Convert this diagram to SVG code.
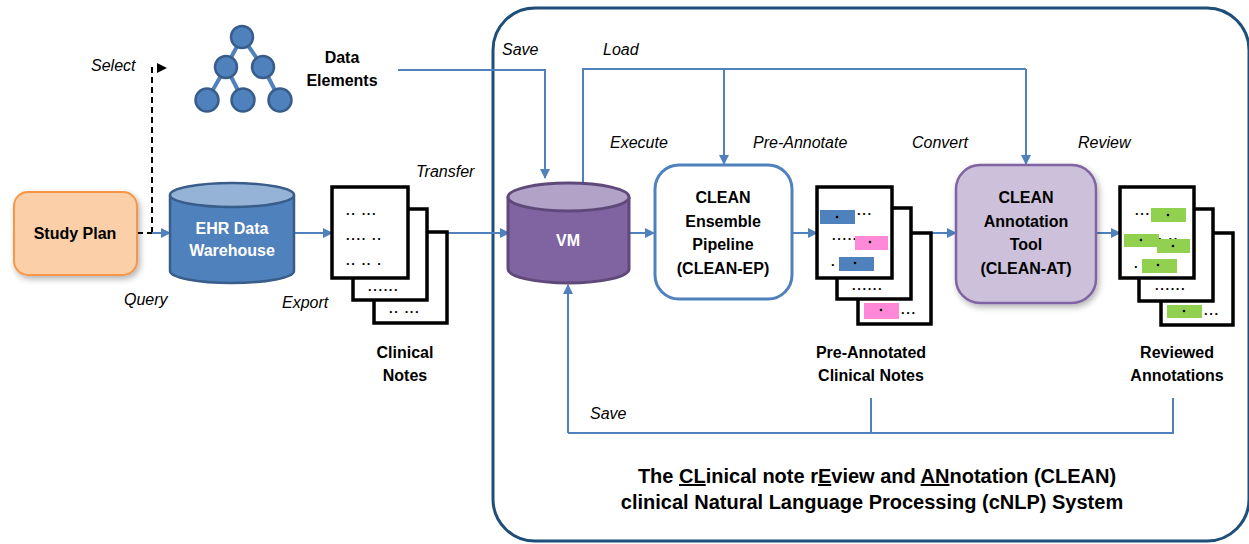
<svg xmlns="http://www.w3.org/2000/svg" width="1249" height="544" viewBox="0 0 1249 544">
<style>
text{font-family:"Liberation Sans",Arial,sans-serif;fill:#000}
.b{font-weight:bold;font-size:16px;text-anchor:middle}
.w{fill:#fff}
.i{font-style:italic;font-size:16px}
.dots{font-size:13px;font-weight:bold;letter-spacing:1.6px}
.page{fill:#fff;stroke:#000;stroke-width:3.5}
.ln{fill:none;stroke:#4F81BD;stroke-width:2}
.arr{marker-end:url(#ah)}
.title{font-weight:bold;font-size:20px;text-anchor:middle}
</style>
<defs>
<marker id="ah" markerWidth="10" markerHeight="10" refX="9" refY="5" orient="auto" markerUnits="userSpaceOnUse">
<path d="M0,0 L10,5 L0,10 z" fill="#4F81BD"/>
</marker>
<marker id="ahk" markerWidth="10" markerHeight="10" refX="9" refY="5" orient="auto" markerUnits="userSpaceOnUse">
<path d="M0,0 L10,5 L0,10 z" fill="#000"/>
</marker>
<filter id="sh" x="-20%" y="-20%" width="150%" height="150%">
<feDropShadow dx="2" dy="3" stdDeviation="3" flood-color="#000" flood-opacity="0.3"/>
</filter>
</defs>

<g id="system-boundary">
<rect x="493" y="8" width="756" height="533" rx="42" fill="none" stroke="#1F4E79" stroke-width="3"/>
</g>

<g id="connectors">
<line x1="137" y1="233" x2="152" y2="233" stroke="#000" stroke-width="2" stroke-dasharray="6,4"/>
<polyline points="152,233 152,68 166,68" fill="none" stroke="#000" stroke-width="2" stroke-dasharray="6,4" marker-end="url(#ahk)"/>
<line class="ln arr" x1="152" y1="233" x2="170" y2="233"/>
<line class="ln arr" x1="294" y1="233" x2="332" y2="233"/>
<line class="ln arr" x1="447" y1="233" x2="509" y2="233"/>
<polyline class="ln arr" points="398,70 545,70 545,178"/>
<polyline class="ln" points="583,184 583,69 1026,69"/>
<line class="ln arr" x1="1026" y1="69" x2="1026" y2="164"/>
<line class="ln arr" x1="724" y1="69" x2="724" y2="164"/>
<line class="ln arr" x1="629" y1="233" x2="654" y2="233"/>
<line class="ln arr" x1="792" y1="233" x2="817" y2="233"/>
<line class="ln arr" x1="931" y1="233" x2="956" y2="233"/>
<line class="ln arr" x1="1096" y1="233" x2="1120" y2="233"/>
<polyline class="ln" points="871,398 871,433"/>
<polyline class="ln" points="1173,398 1173,433 568,433"/>
<line class="ln arr" x1="568" y1="433" x2="568" y2="285"/>
</g>

<g id="labels">
<text class="i" x="91" y="71">Select</text>
<text class="i" x="124" y="305">Query</text>
<text class="i" x="282" y="308">Export</text>
<text class="i" x="416" y="177">Transfer</text>
<text class="i" x="502" y="55">Save</text>
<text class="i" x="603" y="55">Load</text>
<text class="i" x="610" y="148">Execute</text>
<text class="i" x="753" y="148">Pre-Annotate</text>
<text class="i" x="912" y="148">Convert</text>
<text class="i" x="1078" y="148">Review</text>
<text class="i" x="590" y="419">Save</text>
</g>

<g id="study-plan">
<rect x="14" y="192" width="123" height="83" rx="14" fill="#FBCFA8" stroke="#F79646" stroke-width="2" filter="url(#sh)"/>
<text class="b" x="75" y="239">Study Plan</text>
</g>

<g id="data-elements">
<g stroke="#4F81BD" stroke-width="4">
<line x1="242" y1="37" x2="226" y2="67"/>
<line x1="242" y1="37" x2="263" y2="67"/>
<line x1="226" y1="67" x2="207" y2="100"/>
<line x1="226" y1="67" x2="243" y2="100"/>
<line x1="263" y1="67" x2="280" y2="100"/>
</g>
<g fill="#4F81BD" stroke="#385D8A" stroke-width="2.5">
<circle cx="242" cy="37" r="11"/>
<circle cx="226" cy="67" r="11"/>
<circle cx="263" cy="67" r="11"/>
<circle cx="207" cy="100" r="11.5"/>
<circle cx="243" cy="100" r="11.5"/>
<circle cx="280" cy="100" r="11.5"/>
</g>
<text class="b" x="342" y="63">Data</text>
<text class="b" x="342" y="86">Elements</text>
</g>

<g id="ehr">
<path d="M170,195 L170,271 A62,12 0 0 0 294,271 L294,195" fill="#4F81BD" stroke="#385D8A" stroke-width="2.5"/>
<ellipse cx="232" cy="195" rx="62" ry="12" fill="#95B3D7" stroke="#385D8A" stroke-width="2.5"/>
<text class="b w" x="232" y="234">EHR Data</text>
<text class="b w" x="232" y="256">Warehouse</text>
</g>

<g id="clinical-notes">
<rect class="page" x="374" y="232" width="73" height="91"/>
<rect class="page" x="353" y="209" width="74" height="91"/>
<rect class="page" x="332" y="187" width="76" height="91"/>
<text class="dots" x="346" y="215">..   ...</text>
<text class="dots" x="346" y="240">....  ..</text>
<text class="dots" x="346" y="265">.. ..  .</text>
<text class="dots" x="368" y="291">......</text>
<text class="dots" x="389" y="313">..   ...</text>
<text class="b" x="405" y="358">Clinical</text>
<text class="b" x="405" y="381">Notes</text>
</g>

<g id="vm">
<path d="M508,197 L508,269 A60.5,14 0 0 0 629,269 L629,197" fill="#8064A2" stroke="#5F497A" stroke-width="3"/>
<ellipse cx="568.5" cy="197" rx="60.5" ry="14" fill="#B3A2C7" stroke="#5F497A" stroke-width="3"/>
<text class="b w" x="568" y="246">VM</text>
</g>

<g id="clean-ep">
<rect x="655" y="165" width="137" height="134" rx="24" fill="#fff" stroke="#4F81BD" stroke-width="3"/>
<text class="b" x="723" y="203">CLEAN</text>
<text class="b" x="723" y="227">Ensemble</text>
<text class="b" x="723" y="250">Pipeline</text>
<text class="b" x="723" y="274">(CLEAN-EP)</text>
</g>

<g id="pre-annotated-notes">
<rect class="page" x="858" y="233" width="73" height="91"/>
<rect class="page" x="837" y="208" width="74" height="91"/>
<rect class="page" x="817" y="187" width="75" height="91"/>
<rect x="820" y="210" width="35" height="14" fill="#4F81BD"/>
<circle cx="837" cy="217" r="1.3"/>
<text class="dots" x="857" y="215">...</text>
<text class="dots" x="832" y="240">.......</text>
<rect x="855" y="236" width="33" height="14" fill="#FF88D8"/>
<circle cx="870" cy="242" r="1.3"/>
<text class="dots" x="831" y="266">.</text>
<rect x="839" y="257" width="35" height="14" fill="#4F81BD"/>
<circle cx="855" cy="263" r="1.3"/>
<text class="dots" x="852" y="290">......</text>
<rect x="864" y="303" width="35" height="16" fill="#FF88D8"/>
<circle cx="881" cy="310" r="1.3"/>
<text class="dots" x="901" y="314">...</text>
<text class="b" x="871" y="358">Pre-Annotated</text>
<text class="b" x="871" y="381">Clinical  Notes</text>
</g>

<g id="clean-at">
<rect x="956" y="165" width="140" height="138" rx="24" fill="#CCC0DA" stroke="#8064A2" stroke-width="2.5" filter="url(#sh)"/>
<text class="b" x="1026" y="203">CLEAN</text>
<text class="b" x="1026" y="227">Annotation</text>
<text class="b" x="1026" y="250">Tool</text>
<text class="b" x="1026" y="274">(CLEAN-AT)</text>
</g>

<g id="reviewed-annotations">
<rect class="page" x="1161" y="233" width="72" height="92"/>
<rect class="page" x="1139" y="209" width="74" height="92"/>
<rect class="page" x="1120" y="187" width="74" height="91"/>
<text class="dots" x="1135" y="215">...</text>
<rect x="1151" y="208" width="35" height="14" fill="#92D050"/>
<circle cx="1168" cy="215" r="1.3"/>
<text class="dots" x="1158" y="240">. ..</text>
<rect x="1124" y="234" width="35" height="13" fill="#92D050"/>
<circle cx="1141" cy="240" r="1.3"/>
<rect x="1157" y="239" width="33" height="14" fill="#92D050"/>
<circle cx="1173" cy="246" r="1.3"/>
<text class="dots" x="1134" y="268">.</text>
<rect x="1142" y="259" width="35" height="14" fill="#92D050"/>
<circle cx="1158" cy="265" r="1.3"/>
<text class="dots" x="1155" y="290">......</text>
<rect x="1167" y="305" width="35" height="13" fill="#92D050"/>
<circle cx="1184" cy="311" r="1.3"/>
<text class="dots" x="1204" y="315">...</text>
<text class="b" x="1177" y="358">Reviewed</text>
<text class="b" x="1177" y="381">Annotations</text>
</g>

<g id="title">
<text class="title" x="877" y="483">The <tspan text-decoration="underline">CL</tspan>inical note r<tspan text-decoration="underline">E</tspan>view and <tspan text-decoration="underline">AN</tspan>notation  (CLEAN)</text>
<text class="title" x="872" y="509">clinical Natural Language Processing (cNLP) System</text>
</g>
</svg>
